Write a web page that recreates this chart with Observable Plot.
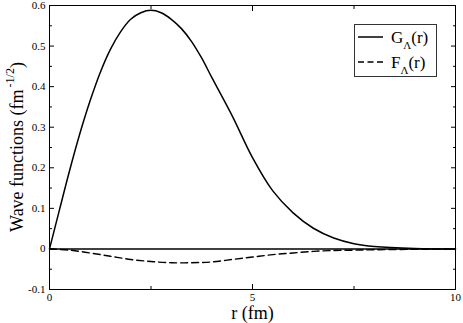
<!DOCTYPE html>
<html>
<head>
<meta charset="utf-8">
<script src="https://cdn.jsdelivr.net/npm/d3@7"></script>
<script src="https://cdn.jsdelivr.net/npm/@observablehq/plot@0.6"></script>
<style>
  html, body { margin: 0; padding: 0; background: #fff; }
  #chart { width: 463px; height: 323px; }
  #chart svg, #chart svg text { font-family: 'Liberation Serif', 'Times New Roman', Times, 'DejaVu Serif', serif !important; }
</style>
</head>
<body>
<div id="chart"></div>
<script>
// Data
const rG = [0, 0.25, 0.5, 0.75, 1.0, 1.25, 1.5, 1.75, 2.0, 2.25, 2.5, 2.75, 3.0, 3.25, 3.5, 3.75, 4.0, 4.5, 5.0, 5.5, 6.0, 6.5, 7.0, 7.5, 8.0, 9.0, 10.0];
const G  = [0, 0.098, 0.195, 0.285, 0.365, 0.435, 0.492, 0.535, 0.566, 0.582, 0.588, 0.582, 0.566, 0.543, 0.511, 0.470, 0.422, 0.328, 0.225, 0.143, 0.089, 0.051, 0.027, 0.013, 0.006, 0.001, 0];
const rF = [0, 0.5, 1.0, 1.5, 2.0, 2.5, 3.0, 3.5, 4.0, 4.5, 5.0, 5.5, 6.0, 6.5, 7.0, 7.5, 8.0, 9.0, 10.0];
const F  = [0, -0.003, -0.010, -0.018, -0.026, -0.031, -0.034, -0.034, -0.032, -0.026, -0.020, -0.014, -0.010, -0.006, -0.004, -0.003, -0.002, -0.001, 0];

const xMajor = [0, 5, 10];
const xMinor = [2.5, 7.5];
const yMajor = [-0.1, 0, 0.1, 0.2, 0.3, 0.4, 0.5, 0.6];
const yMinor = [-0.05, 0.05, 0.15, 0.25, 0.35, 0.45, 0.55];
const xTitle = "r (fm)";
const yTitle = "Wave functions (fm";
const yTitleSup = "-1/2";
const legendNames = ["G", "F"];

const SERIF = "Liberation Serif";
const gData = rG.map((r, i) => ({r, v: G[i]}));
const fData = rF.map((r, i) => ({r, v: F[i]}));
const fmtY = d => d === 0 ? "0" : d.toFixed(1);

const chart = Plot.plot({
  width: 463,
  height: 323,
  marginLeft: 49,
  marginRight: 8,
  marginTop: 5,
  marginBottom: 34,
  style: {fontSize: "11px", color: "black", background: "white"},
  x: {domain: [0, 10]},
  y: {domain: [-0.1, 0.6]},
  marks: [
    Plot.ruleY([0], {stroke: "black", strokeWidth: 1.4}),
    Plot.line(gData, {x: "r", y: "v", stroke: "black", strokeWidth: 1.5, curve: "catmull-rom"}),
    Plot.line(fData, {x: "r", y: "v", stroke: "black", strokeWidth: 1.4, strokeDasharray: "7,4", curve: "catmull-rom"}),
    Plot.axisX(xMajor, {anchor: "bottom", tickSize: -5, tickPadding: 9, tickFormat: d => String(d), fontSize: 11, fontFamily: SERIF, label: null}),
    Plot.axisX(xMinor, {anchor: "bottom", tickSize: -3, text: null, label: null}),
    Plot.axisX(xMajor, {anchor: "top", tickSize: -5, text: null, label: null}),
    Plot.axisX(xMinor, {anchor: "top", tickSize: -3, text: null, label: null}),
    Plot.axisY(yMajor, {anchor: "left", tickSize: -5, tickPadding: 9, tickFormat: fmtY, fontSize: 11, fontFamily: SERIF, label: null}),
    Plot.axisY(yMinor, {anchor: "left", tickSize: -3, text: null, label: null}),
    Plot.axisY(yMajor, {anchor: "right", tickSize: -5, text: null, label: null}),
    Plot.axisY(yMinor, {anchor: "right", tickSize: -3, text: null, label: null}),
    Plot.frame({stroke: "black"}),
    Plot.text([xTitle], {frameAnchor: "bottom", dy: 24, lineAnchor: "middle", fontSize: 18, fontFamily: SERIF, fill: "black"})
  ]
});
document.getElementById("chart").appendChild(chart);

// Y title with superscript
const svg = d3.select(chart);
const yt = svg.append("text")
  .attr("transform", "translate(23,147) rotate(-90)")
  .attr("text-anchor", "middle")
  .attr("font-size", 18)
  .attr("fill", "black");
yt.append("tspan").text(yTitle);
yt.append("tspan").attr("font-size", 12).attr("dy", -9).attr("dx", 2).text(yTitleSup);
yt.append("tspan").attr("dy", 9).text(")");

// Legend
const lg = svg.append("g").attr("fill", "black").attr("text-anchor", "start");
lg.append("rect").attr("x", 354.5).attr("y", 24.5).attr("width", 82).attr("height", 52)
  .attr("fill", "white").attr("stroke", "#333").attr("stroke-width", 1);
const rows = [{y: 37, dash: null}, {y: 62, dash: "6,3.5"}];
rows.forEach((row, i) => {
  lg.append("line").attr("x1", 358).attr("x2", 383).attr("y1", row.y).attr("y2", row.y)
    .attr("stroke", "black").attr("stroke-width", 1.5).attr("stroke-dasharray", row.dash);
  const t = lg.append("text").attr("x", 391).attr("y", row.y + 6).attr("font-size", 17).attr("text-anchor", "start");
  t.append("tspan").text(legendNames[i]);
  t.append("tspan").attr("font-size", 11).attr("dy", 6).text("\u039B");
  t.append("tspan").attr("dy", -6).text("(r)");
});
</script>
</body>
</html>
